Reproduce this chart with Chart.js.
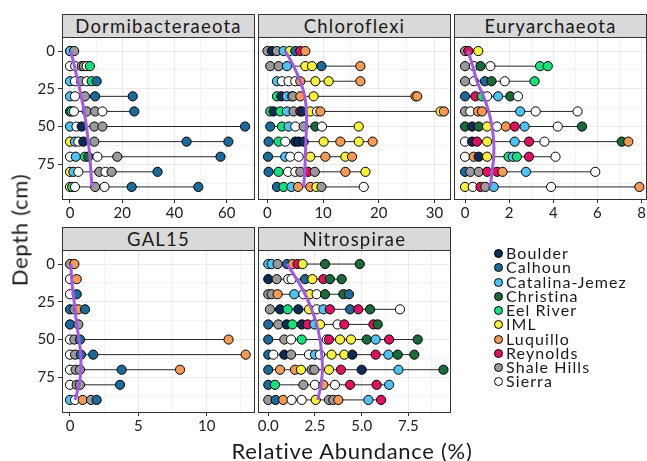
<!DOCTYPE html>
<html>
<head>
<meta charset="utf-8">
<script src="https://cdn.jsdelivr.net/npm/chart.js@4/dist/chart.umd.min.js"></script>
<style>
  body { margin: 0; background: #fff; font-family: Lato, sans-serif; }
  #wrap { position: relative; width: 647px; height: 461px; overflow: hidden; }
  canvas { position: absolute; }
  .strip { position: absolute; background: #d9d9d9; border: 1px solid #333; box-sizing: border-box;
           text-align: center; font-size: 18.5px; letter-spacing: 1.2px; color: #1a1a1a; line-height: 22px; }
  .frame { position: absolute; border: 1px solid #333; box-sizing: border-box; pointer-events: none; }
  .title { position: absolute; font-size: 22px; letter-spacing: 0.7px; color: #1a1a1a; white-space: nowrap; }
  .leg { position: absolute; left: 494px; font-size: 16px; letter-spacing: 1.1px; color: #1a1a1a; line-height: 16px; }
  .leg span.dot { display: inline-block; width: 7px; height: 7px; border: 1px solid #000; border-radius: 50%;
                  margin-right: 3px; vertical-align: 1px; }
</style>
</head>
<body>
<div id="wrap"></div>
<script>
const depths = [0, 10, 20, 30, 40, 50, 60, 70, 80, 90];

const sites = ['Boulder', 'Calhoun', 'Catalina-Jemez', 'Christina', 'Eel River', 'IML', 'Luquillo', 'Reynolds', 'Shale Hills', 'Sierra'];
const siteCodes = ['B', 'Ca', 'CJ', 'Ch', 'ER', 'I', 'L', 'R', 'SH', 'S'];
const siteColors = ['#0c2d57', '#1c6a9a', '#4ec3f2', '#1a6b3a', '#16e07a', '#f7f13c', '#f59a55', '#e0115f', '#9a9a9a', '#ffffff'];

// one list per depth: [site, relative abundance %]
const dormiRows = [
  [['S',0],['CJ',0.1],['SH',1.6]],
  [['S',0],['S',2],['SH',4.5],['SH',5.3],['S',6.4],['ER',7.6]],
  [['CJ',0],['S',1.9],['SH',4.2],['S',6.4],['ER',8.3],['Ca',10.2]],
  [['CJ',0],['S',1.9],['SH',5.7],['Ca',9.6],['Ca',24.0]],
  [['Ca',0],['ER',0.6],['S',1.5],['SH',6.4],['SH',9.6],['S',12.4],['Ca',24.6]],
  [['CJ',0],['S',2.5],['B',4.5],['SH',9.3],['SH',12.4],['Ca',67]],
  [['I',0],['CJ',1.9],['S',3.2],['B',5.1],['SH',9.3],['Ca',44.6],['Ca',60.6]],
  [['S',0],['CJ',2.2],['ER',5.7],['Ch',7.0],['S',10.5],['SH',18.1],['Ca',57.6]],
  [['I',0],['CJ',1.3],['S',3.2],['SH',11.2],['S',13.6],['SH',15.9],['Ca',33.5]],
  [['I',0],['ER',0.8],['S',1.9],['SH',9.6],['S',13.2],['Ca',23.6],['Ca',49.1]]
];
const dormiTrend = [0.3, 1.7, 3.0, 4.3, 5.4, 6.3, 7.0, 7.6, 8.0, 8.4];

const chloroRows = [
  [['SH',0],['B',0.8],['SH',1.7],['CJ',2.9],['I',4.0],['Ca',5.0],['R',5.9],['L',6.8]],
  [['SH',0.5],['SH',2.0],['CJ',3.5],['I',6.8],['I',8.0],['Ca',9.7],['L',16.7]],
  [['CJ',1.7],['S',2.6],['S',3.8],['S',5.0],['L',5.9],['I',8.6],['I',11.0],['L',16.7]],
  [['ER',1.7],['B',2.5],['CJ',3.5],['S',4.4],['SH',4.6],['L',5.9],['I',8.3],['I',26.6],['L',26.9]],
  [['ER',0.5],['B',1.1],['ER',2.3],['CJ',3.5],['SH',4.7],['R',5.9],['B',6.2],['I',7.7],['S',8.9],['L',9.5],['I',31.1],['L',31.7]],
  [['Ca',0.5],['ER',2.6],['CJ',3.8],['S',5.0],['SH',6.5],['Ch',8.6],['S',9.8],['I',16.4]],
  [['Ca',0.2],['ER',2.0],['S',3.2],['B',5.0],['B',5.6],['B',6.5],['I',10.1],['L',13.1],['I',16.4],['L',18.9]],
  [['Ca',0.1],['CJ',3.2],['S',4.1],['S',5.6],['I',7.7],['L',10.4],['I',14.0],['L',15.2]],
  [['Ca',0.2],['ER',2.0],['S',3.7],['S',5.0],['SH',5.9],['R',7.3],['SH',8.5],['L',14.0],['I',17.6]],
  [['Ca',1.7],['ER',2.9],['CJ',4.3],['L',5.5],['L',7.7],['I',8.8],['SH',9.7],['S',17.3]]
];
const chloroTrend = [3.2, 4.7, 5.9, 6.7, 7.0, 7.0, 6.9, 6.8, 6.7, 6.5];

const euryRows = [
  [['SH',0],['R',0.15],['I',0.6]],
  [['SH',0],['S',0.4],['Ch',0.7],['S',1.15],['ER',3.4],['ER',3.75]],
  [['SH',0],['S',0.4],['Ca',0.9],['Ch',1.2],['S',1.8],['ER',3.15]],
  [['Ca',0],['R',0.47],['ER',0.77],['S',1.0],['CJ',1.5],['Ch',2.05],['S',2.4]],
  [['SH',0],['S',0.24],['L',0.59],['L',0.77],['CJ',2.5],['S',3.2],['S',5.1]],
  [['Ch',0],['B',0.32],['Ch',0.62],['I',1.0],['S',1.45],['L',1.85],['R',2.25],['CJ',2.7],['S',4.2],['Ch',5.3]],
  [['S',0],['B',0.32],['R',0.54],['I',1.0],['CJ',2.25],['R',2.9],['S',3.6],['Ch',7.1],['L',7.4]],
  [['S',0],['L',0.39],['B',0.62],['I',1.0],['ER',1.97],['CJ',2.17],['ER',2.35],['R',2.9],['S',4.1]],
  [['Ca',0],['SH',0.24],['SH',0.62],['R',1.0],['R',1.45],['L',1.7],['CJ',2.76],['S',5.9]],
  [['I',0],['S',0.35],['R',0.7],['SH',0.92],['CJ',1.3],['S',3.9],['L',7.9]]
];
const euryTrend = [0.14, 0.35, 0.54, 0.84, 1.07, 1.22, 1.3, 1.3, 1.22, 1.15];

const galRows = [
  [['SH',0],['L',0.32]],
  [['S',0],['L',0.49]],
  [['S',0],['Ca',0.49]],
  [['Ca',0],['SH',0.32],['L',0.61],['Ca',1.1]],
  [['Ca',0],['SH',0.61]],
  [['S',0],['SH',0.32],['Ca',0.73],['L',11.6]],
  [['S',0],['SH',0.37],['Ca',0.8],['Ca',1.7],['L',12.85]],
  [['S',0],['SH',0.41],['SH',0.73],['Ca',3.78],['L',8.05]],
  [['S',0],['SH',0.49],['SH',0.73],['Ca',3.66]],
  [['CJ',0],['S',0.37],['L',0.93],['SH',1.54],['Ca',1.95]]
];
const galTrend = [0.07, 0.12, 0.24, 0.37, 0.49, 0.66, 0.78, 0.8, 0.66, 0.37];

const nitroRows = [
  [['CJ',0],['CJ',0.18],['SH',0.5],['Ca',1.0],['L',1.3],['R',1.57],['I',1.84],['Ch',3.04],['Ch',4.9]],
  [['B',0],['SH',0.45],['S',1.07],['S',1.25],['Ca',1.97],['I',2.36],['R',2.95],['Ch',3.3],['Ch',3.93]],
  [['SH',0],['SH',0.18],['L',0.5],['CJ',1.39],['S',1.88],['I',2.23],['S',2.59],['Ch',3.04],['Ch',4.02],['Ca',4.32]],
  [['SH',0.09],['B',0.63],['ER',1.04],['B',1.61],['I',2.18],['S',2.59],['CJ',2.95],['R',3.3],['Ca',4.38],['R',4.82],['Ch',5.45],['S',7.05]],
  [['Ca',0],['SH',0.54],['B',0.98],['ER',1.29],['B',1.79],['R',2.11],['CJ',2.47],['I',2.77],['S',3.71],['R',4.07],['R',5.63],['Ch',5.86]],
  [['Ca',0],['SH',0.86],['S',1.22],['ER',1.79],['S',3.13],['R',3.25],['I',3.84],['I',4.43],['Ch',5.27],['CJ',5.75],['R',6.47],['Ch',8.0]],
  [['Ca',0],['S',0.27],['B',0.86],['SH',1.22],['S',2.18],['CJ',2.5],['S',2.77],['I',3.39],['I',4.07],['B',4.5],['R',5.75],['CJ',6.43],['Ch',6.93],['Ch',7.82]],
  [['Ca',0],['L',0.63],['L',1.43],['I',1.75],['SH',2.32],['SH',2.47],['I',3.25],['R',3.89],['B',5.0],['CJ',6.97],['Ch',9.38]],
  [['Ca',0],['ER',0.36],['SH',1.88],['S',2.5],['L',2.95],['S',3.57],['R',4.38],['R',5.8],['CJ',6.47]],
  [['SH',0],['Ca',0.39],['L',0.8],['S',1.25],['S',1.79],['I',2.54],['SH',3.25],['SH',3.48],['L',3.75],['CJ',5.36],['R',6.04]]
];
const nitroTrend = [1.0, 1.52, 1.97, 2.32, 2.59, 2.77, 2.86, 2.9, 2.82, 2.65];

const panels = [
  { name: 'Dormibacteraeota', rows: dormiRows, trend: dormiTrend, left: 62, top: 37, xmin: -3.06, xmax: 70.4,
    majors: [0, 20, 40, 60], minors: [10, 30, 50, 70], yLabels: true, fmt: v => String(v) },
  { name: 'Chloroflexi', rows: chloroRows, trend: chloroTrend, left: 258, top: 37, xmin: -1.7, xmax: 32.8,
    majors: [0, 10, 20, 30], minors: [5, 15, 25], yLabels: false, fmt: v => String(v) },
  { name: 'Euryarchaeota', rows: euryRows, trend: euryTrend, left: 454, top: 37, xmin: -0.5, xmax: 8.2,
    majors: [0, 2, 4, 6, 8], minors: [1, 3, 5, 7], yLabels: false, fmt: v => String(v) },
  { name: 'GAL15', rows: galRows, trend: galTrend, left: 62, top: 250, xmin: -0.585, xmax: 13.46,
    majors: [0, 5, 10], minors: [2.5, 7.5, 12.5], yLabels: true, fmt: v => String(v) },
  { name: 'Nitrospirae', rows: nitroRows, trend: nitroTrend, left: 258, top: 250, xmin: -0.55, xmax: 9.73,
    majors: [0, 2.5, 5, 7.5], minors: [1.25, 3.75, 6.25, 8.75], yLabels: false, fmt: v => v.toFixed(1) }
];

const PW = 192, PH = 162, PADL = 50, PADR = 20, PADT = 12, XAXH = 30;
const yMajors = [0, 25, 50, 75], yMinors = [12.5, 37.5, 62.5, 87.5];
const wrap = document.getElementById('wrap');

function colorOf(code) { return siteColors[siteCodes.indexOf(code)]; }

panels.forEach(p => {
  const cv = document.createElement('canvas');
  cv.width = PW + PADL + PADR; cv.height = PH + PADT + XAXH;
  cv.style.left = (p.left - PADL) + 'px';
  cv.style.top = (p.top - PADT) + 'px';
  wrap.appendChild(cv);

  const pts = [], cols = [];
  p.rows.forEach((row, i) => row.forEach(([s, v]) => { pts.push({ x: v, y: depths[i] }); cols.push(colorOf(s)); }));

  const datasets = [
    { data: depths.map((d, i) => ({ x: p.trend[i], y: d })), showLine: true, tension: 0.4,
      borderColor: '#a259e6', borderWidth: 3, pointRadius: 0, order: 0 },
    { data: pts, pointRadius: 4.6, pointBackgroundColor: cols, pointBorderColor: '#000', pointBorderWidth: 1, order: 1 }
  ];
  p.rows.forEach((row, i) => {
    const vals = row.map(r => r[1]);
    datasets.push({ data: [{ x: Math.min(...vals), y: depths[i] }, { x: Math.max(...vals), y: depths[i] }],
      showLine: true, borderColor: '#262626', borderWidth: 1, pointRadius: 0, order: 2 });
  });

  const xt = [...p.majors, ...p.minors].sort((a, b) => a - b);
  const yt = [...yMajors, ...yMinors].sort((a, b) => a - b);

  new Chart(cv, {
    type: 'scatter',
    data: { datasets },
    options: {
      responsive: false, animation: false,
      layout: { padding: { top: PADT, right: PADR, left: 0, bottom: 0 } },
      plugins: { legend: { display: false }, tooltip: { enabled: false } },
      scales: {
        x: {
          min: p.xmin, max: p.xmax,
          afterBuildTicks: s => { s.ticks = xt.map(v => ({ value: v })); },
          afterFit: s => { s.height = XAXH; },
          border: { display: false },
          grid: { color: c => p.majors.includes(c.tick.value) ? '#ebebeb' : '#f3f3f3', lineWidth: 1,
                  tickLength: 4, tickColor: c => p.majors.includes(c.tick.value) ? '#333' : 'rgba(0,0,0,0)' },
          ticks: { autoSkip: false, maxRotation: 0, padding: 1, color: '#222', font: { family: 'Lato', size: 15 },
                   callback: v => p.majors.includes(v) ? p.fmt(v) : '' }
        },
        y: {
          reverse: true, min: -9.3, max: 98,
          afterBuildTicks: s => { s.ticks = yt.map(v => ({ value: v })); },
          afterFit: s => { s.width = PADL; },
          border: { display: false },
          grid: { color: c => yMajors.includes(c.tick.value) ? '#ebebeb' : '#f3f3f3', lineWidth: 1,
                  drawTicks: p.yLabels, tickLength: 4,
                  tickColor: c => yMajors.includes(c.tick.value) ? '#333' : 'rgba(0,0,0,0)' },
          ticks: { display: p.yLabels, autoSkip: false, padding: 3, color: '#222', font: { family: 'Lato', size: 15 },
                   callback: v => yMajors.includes(v) ? String(v) : '' }
        }
      }
    }
  });

  const fr = document.createElement('div');
  fr.className = 'frame';
  Object.assign(fr.style, { left: p.left + 'px', top: p.top + 'px', width: (PW + 1) + 'px', height: (PH + 1) + 'px' });
  wrap.appendChild(fr);

  const st = document.createElement('div');
  st.className = 'strip';
  st.textContent = p.name;
  Object.assign(st.style, { left: p.left + 'px', top: (p.top - 23) + 'px', width: (PW + 1) + 'px', height: '24px' });
  wrap.appendChild(st);
});

// legend
sites.forEach((s, i) => {
  const d = document.createElement('div');
  d.className = 'leg';
  d.style.top = (245 + i * 14.27) + 'px';
  d.innerHTML = '<span class="dot" style="background:' + siteColors[i] + '"></span>' + s;
  wrap.appendChild(d);
});

const yt = document.createElement('div');
yt.className = 'title';
yt.textContent = 'Depth (cm)';
Object.assign(yt.style, { left: '19px', top: '230px', transform: 'translate(-50%,-50%) rotate(-90deg)' });
wrap.appendChild(yt);

const xtl = document.createElement('div');
xtl.className = 'title';
xtl.textContent = 'Relative Abundance (%)';
Object.assign(xtl.style, { left: '352px', top: '450px', transform: 'translate(-50%,-50%)' });
wrap.appendChild(xtl);
</script>
</body>
</html>
